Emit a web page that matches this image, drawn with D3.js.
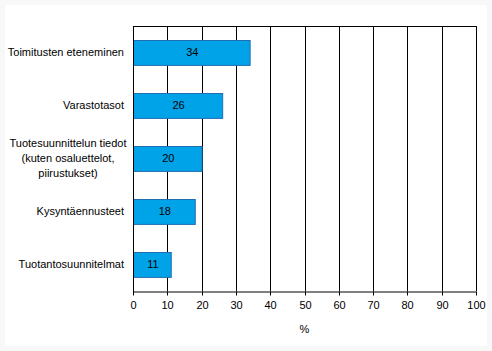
<!DOCTYPE html>
<html lang="fi">
  <head>
    <meta charset="utf-8" />
    <title>Bar chart</title>
    <script src="https://d3js.org/d3.v7.min.js"></script>
    <style type="text/css">
      body {
        margin: 0;
        background: #f8f8f8;
      }
      text {
        font-family: "Liberation Sans", Arial, sans-serif;
        font-size: 11px;
        fill: black;
      }
    </style>
  </head>
  <body>
    <script type="text/javascript">
      const w = 492;
      const h = 351;

      // Data
      const categories = [
        ["Toimitusten eteneminen"],
        ["Varastotasot"],
        ["Tuotesuunnittelun tiedot", "(kuten osaluettelot,", "piirustukset)"],
        ["Kysyntäennusteet"],
        ["Tuotantosuunnitelmat"]
      ];
      const values = [34, 26, 20, 18, 11];
      const xTicks = [0, 10, 20, 30, 40, 50, 60, 70, 80, 90, 100];

      const margin = { left: 133, top: 26, right: 476, bottom: 291 };

      const svg = d3
        .select("body")
        .append("svg")
        .attr("width", w)
        .attr("height", h);

      // faint frame
      svg
        .append("rect")
        .attr("x", 0)
        .attr("y", 0)
        .attr("width", w)
        .attr("height", h)
        .attr("fill", "#f8f8f8");
      svg
        .append("rect")
        .attr("x", 5)
        .attr("y", 5)
        .attr("width", 482)
        .attr("height", 341)
        .attr("fill", "white");

      const x = d3.scaleLinear().domain([0, 100]).range([margin.left, margin.right]);
      const y = d3
        .scaleBand()
        .domain(d3.range(values.length))
        .range([margin.top, margin.bottom])
        .paddingInner(0.53)
        .paddingOuter(0.265);

      // Gridlines
      svg
        .append("g")
        .selectAll("line")
        .data(xTicks)
        .enter()
        .append("line")
        .attr("x1", d => Math.round(x(d)) + 0.5)
        .attr("x2", d => Math.round(x(d)) + 0.5)
        .attr("y1", margin.top)
        .attr("y2", margin.bottom)
        .attr("stroke", "black");

      // top border
      svg
        .append("line")
        .attr("x1", margin.left)
        .attr("x2", margin.right + 1)
        .attr("y1", margin.top + 0.5)
        .attr("y2", margin.top + 0.5)
        .attr("stroke", "black");

      // Bars
      svg
        .append("g")
        .selectAll("rect")
        .data(values)
        .enter()
        .append("rect")
        .attr("x", x(0) + 0.5)
        .attr("y", (d, i) => Math.round(y(i)) + 0.5)
        .attr("width", d => x(d) - x(0))
        .attr("height", y.bandwidth())
        .attr("fill", "#00a2e8")
        .attr("stroke", "#1f6eb4");

      // Value labels
      svg
        .append("g")
        .selectAll("text")
        .data(values)
        .enter()
        .append("text")
        .attr("x", d => (x(0) + x(d)) / 2 + 1)
        .attr("y", (d, i) => y(i) + y.bandwidth() / 2)
        .attr("dy", "0.35em")
        .attr("text-anchor", "middle")
        .text(d => d);

      // Category labels
      const labels = svg
        .append("g")
        .selectAll("text")
        .data(categories)
        .enter()
        .append("text")
        .attr("text-anchor", function (d) {
          return d.length > 1 ? "middle" : "end";
        })
        .attr("transform", function (d, i) {
          const cy = y(i) + y.bandwidth() / 2;
          const cx = d.length > 1 ? 68 : 124;
          return "translate(" + cx + "," + (cy - (d.length - 1) * 7.5) + ")";
        });
      labels
        .selectAll("tspan")
        .data(d => d)
        .enter()
        .append("tspan")
        .attr("x", 0)
        .attr("y", (d, i) => i * 15)
        .attr("dy", "0.35em")
        .text(d => d);

      // X axis
      const axis = svg
        .append("g")
        .attr("transform", "translate(0," + (margin.bottom + 0.5) + ")")
        .call(d3.axisBottom(x).tickValues(xTicks).tickSize(4).tickSizeOuter(0).tickPadding(6));
      axis.select(".domain").attr("stroke", "black");
      axis.selectAll("text").style("font-size", "11px").attr("fill", "black");
      axis.selectAll(".tick line").attr("stroke", "black");
      axis.selectAll(".tick").attr("transform", d => "translate(" + (Math.round(x(d)) + 0.5) + ",0)");

      // left axis line
      svg
        .append("line")
        .attr("x1", margin.left + 0.5)
        .attr("x2", margin.left + 0.5)
        .attr("y1", margin.top)
        .attr("y2", margin.bottom + 4)
        .attr("stroke", "black");

      svg
        .append("text")
        .attr("x", (margin.left + margin.right) / 2)
        .attr("y", 329)
        .attr("dy", "0.35em")
        .attr("text-anchor", "middle")
        .text("%");
    </script>
  </body>
</html>
